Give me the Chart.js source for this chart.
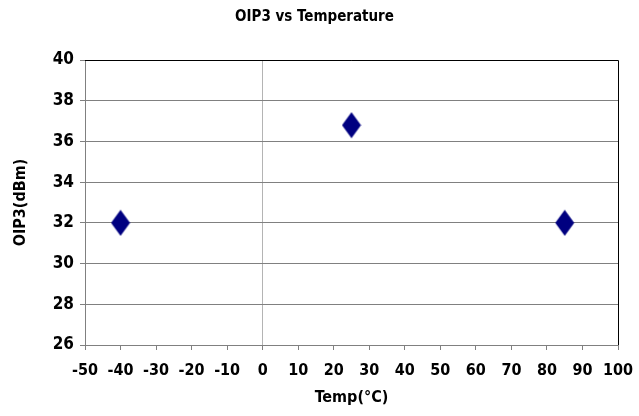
<!DOCTYPE html>
<html>
<head>
<meta charset="utf-8">
<script src="https://cdn.jsdelivr.net/npm/chart.js@4.4.0/dist/chart.umd.min.js"></script>
<style>
  html, body { margin: 0; padding: 0; background: #fff; }
  #wrap { width: 639px; height: 416px; }
</style>
</head>
<body>
<div id="wrap"><canvas id="myChart" width="639" height="416"></canvas></div>
<script>
// values
const temps = [-40, 25, 85];
const oip3 = [32, 36.8, 32];
const xTicks = { min: -50, max: 100, step: 10 };
const yTicks = { min: 26, max: 40, step: 2 };

const FONT = "'DejaVu Sans Condensed', 'Liberation Sans Narrow', sans-serif";

// tall navy diamond marker
const diamond = document.createElement('canvas');
diamond.width = 20;
diamond.height = 27;
const dctx = diamond.getContext('2d');
dctx.beginPath();
dctx.moveTo(10, 0.5);
dctx.lineTo(19.5, 13.5);
dctx.lineTo(10, 26.5);
dctx.lineTo(0.5, 13.5);
dctx.closePath();
dctx.fillStyle = '#000080';
dctx.fill();

// black top and right frame lines
const frame = {
  id: 'frame',
  afterDraw(chart) {
    const a = chart.chartArea;
    const c = chart.ctx;
    c.save();
    c.strokeStyle = '#000';
    c.lineWidth = 1;
    c.beginPath();
    c.moveTo(a.left, a.top + 0.5);
    c.lineTo(a.right + 0.5, a.top + 0.5);
    c.lineTo(a.right + 0.5, a.bottom);
    c.stroke();
    c.restore();
  }
};

const ctx = document.getElementById('myChart').getContext('2d');
const myChart = new Chart(ctx, {
  type: 'scatter',
  data: {
    datasets: [{
      label: 'OIP3',
      data: temps.map((t, i) => ({ x: t, y: oip3[i] })),
      pointStyle: diamond,
      pointRadius: 10
    }]
  },
  options: {
    responsive: false,
    animation: false,
    layout: { padding: { left: 11, right: 21, top: 0, bottom: 9 } },
    plugins: {
      legend: { display: false },
      tooltip: { enabled: false },
      title: {
        display: true,
        text: 'OIP3 vs Temperature',
        color: '#000',
        font: { family: FONT, size: 15, weight: 'bold' },
        padding: { top: 8, bottom: 34 }
      }
    },
    scales: {
      x: {
        type: 'linear',
        min: xTicks.min,
        max: xTicks.max,
        ticks: {
          stepSize: xTicks.step,
          color: '#000',
          font: { family: FONT, size: 16, weight: 'bold' },
          padding: 11,
          maxRotation: 0,
          minRotation: 0,
          autoSkip: false
        },
        grid: {
          color: c => c.tick && c.tick.value === 0 ? '#b4b4b4' : 'rgba(0,0,0,0)',
          tickColor: '#808080',
          tickLength: 5
        },
        border: { color: '#808080' },
        title: {
          display: true,
          text: 'Temp(°C)',
          color: '#000',
          font: { family: FONT, size: 16, weight: 'bold' },
          padding: { top: 4, bottom: 0 }
        },
        afterFit(scale) {
          scale.height = 62;
          scale.paddingLeft = 0;
          scale.paddingRight = 0;
        }
      },
      y: {
        type: 'linear',
        min: yTicks.min,
        max: yTicks.max,
        ticks: {
          stepSize: yTicks.step,
          color: '#000',
          font: { family: FONT, size: 17, weight: 'bold' },
          padding: 6
        },
        grid: {
          color: '#808080',
          tickColor: '#808080',
          tickLength: 5
        },
        border: { color: '#808080' },
        title: {
          display: true,
          text: 'OIP3(dBm)',
          color: '#000',
          font: { family: FONT, size: 16, weight: 'bold' },
          padding: { top: 0, bottom: 2 }
        },
        afterFit(scale) { scale.width = 74; }
      }
    }
  },
  plugins: [frame]
});
</script>
</body>
</html>
